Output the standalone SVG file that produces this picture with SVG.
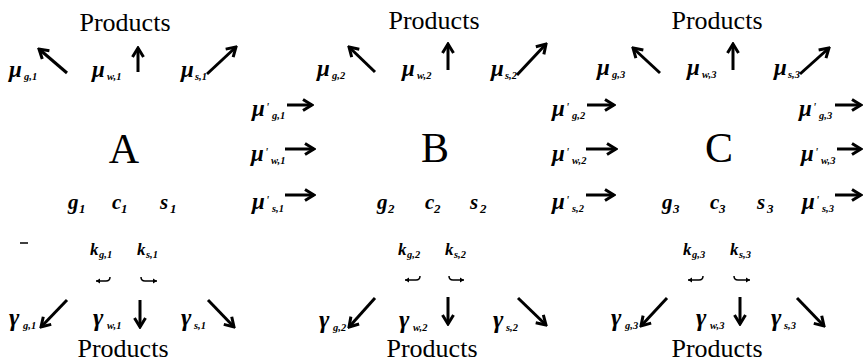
<svg xmlns="http://www.w3.org/2000/svg" width="863" height="364" viewBox="0 0 863 364">
<style>
.prod{font-family:"Liberation Serif","Times New Roman",serif;font-size:26px;fill:#000}
.big{font-family:"Liberation Serif","Times New Roman",serif;font-size:42px;fill:#000;text-anchor:middle}
.m{font-family:"Liberation Serif","Times New Roman",serif;font-weight:bold;font-style:italic;font-size:23px;fill:#000}
.gm{font-family:"Liberation Serif","Times New Roman",serif;font-weight:bold;font-style:italic;font-size:25px;fill:#000}
.v{font-family:"Liberation Serif","Times New Roman",serif;font-weight:bold;font-style:italic;font-size:21px;fill:#000}
.k{font-family:"Liberation Serif","Times New Roman",serif;font-weight:bold;font-style:italic;font-size:17px;fill:#000}
.s{font-size:10.5px}
.d{font-size:13px}
.p{font-size:13px;font-weight:normal}
.ar{stroke:#000;stroke-width:3;fill:none;marker-end:url(#ah)}
.sm{stroke:#000;stroke-width:1.5;fill:none;marker-end:url(#sh)}
</style>
<defs>
<marker id="ah" viewBox="-12 -8 14 16" refX="0" refY="0" markerWidth="14" markerHeight="16" markerUnits="userSpaceOnUse" orient="auto">
<path d="M-9,-5.5 L0,0 L-9,5.5" fill="none" stroke="#000" stroke-width="3"/>
</marker>
<marker id="sh" viewBox="-6 -4 7 8" refX="0" refY="0" markerWidth="7" markerHeight="8" markerUnits="userSpaceOnUse" orient="auto">
<path d="M-4,-2.5 L0,0 L-4,2.5 Z" fill="#000"/>
</marker>
</defs>
<rect width="863" height="364" fill="#fff"/>

<g id="products-top">
<text class="prod" x="125" y="31" text-anchor="middle">Products</text>
<text class="prod" x="434" y="29" text-anchor="middle">Products</text>
<text class="prod" x="717" y="29" text-anchor="middle">Products</text>
</g>
<g id="products-bottom">
<text class="prod" x="123" y="357" text-anchor="middle">Products</text>
<text class="prod" x="432" y="357" text-anchor="middle">Products</text>
<text class="prod" x="717" y="357" text-anchor="middle">Products</text>
</g>

<g id="node-A">
<text class="big" x="124" y="163">A</text>
<text class="v" x="68" y="209">g<tspan class="d" x="79" y="213">1</tspan></text>
<text class="v" x="112" y="209">c<tspan class="d" x="121" y="213">1</tspan></text>
<text class="v" x="160" y="209">s<tspan class="d" x="170" y="213">1</tspan></text>
</g>
<g id="node-B">
<text class="big" x="435" y="162">B</text>
<text class="v" x="377" y="209">g<tspan class="d" x="388" y="213">2</tspan></text>
<text class="v" x="425" y="209">c<tspan class="d" x="434" y="213">2</tspan></text>
<text class="v" x="470" y="209">s<tspan class="d" x="480" y="213">2</tspan></text>
</g>
<g id="node-C">
<text class="big" x="719" y="162">C</text>
<text class="v" x="662" y="209">g<tspan class="d" x="673" y="213">3</tspan></text>
<text class="v" x="710" y="209">c<tspan class="d" x="719" y="213">3</tspan></text>
<text class="v" x="757" y="209">s<tspan class="d" x="767" y="213">3</tspan></text>
</g>

<g id="labels-mu">
<text class="m" x="9" y="77">μ<tspan class="s" x="24" y="80">g,1</tspan></text>
<text class="m" x="92" y="77">μ<tspan class="s" x="107" y="80">w,1</tspan></text>
<text class="m" x="181" y="77">μ<tspan class="s" x="195" y="80">s,1</tspan></text>
<text class="m" x="317" y="76">μ<tspan class="s" x="332" y="79">g,2</tspan></text>
<text class="m" x="402" y="76">μ<tspan class="s" x="417" y="79">w,2</tspan></text>
<text class="m" x="491" y="76">μ<tspan class="s" x="505" y="79">s,2</tspan></text>
<text class="m" x="597" y="75">μ<tspan class="s" x="612" y="78">g,3</tspan></text>
<text class="m" x="687" y="75">μ<tspan class="s" x="702" y="78">w,3</tspan></text>
<text class="m" x="774" y="75">μ<tspan class="s" x="788" y="78">s,3</tspan></text>
</g>

<g id="labels-mu-prime">
<text class="m" x="252" y="116">μ<tspan class="p" x="266" y="111">'</tspan><tspan class="s" x="272" y="119">g,1</tspan></text>
<text class="m" x="251" y="161">μ<tspan class="p" x="265" y="156">'</tspan><tspan class="s" x="271" y="164">w,1</tspan></text>
<text class="m" x="252" y="209">μ<tspan class="p" x="266" y="204">'</tspan><tspan class="s" x="272" y="212">s,1</tspan></text>
<text class="m" x="552" y="116">μ<tspan class="p" x="566" y="111">'</tspan><tspan class="s" x="572" y="119">g,2</tspan></text>
<text class="m" x="552" y="161">μ<tspan class="p" x="566" y="156">'</tspan><tspan class="s" x="572" y="164">w,2</tspan></text>
<text class="m" x="552" y="209">μ<tspan class="p" x="566" y="204">'</tspan><tspan class="s" x="572" y="212">s,2</tspan></text>
<text class="m" x="799" y="116">μ<tspan class="p" x="813" y="111">'</tspan><tspan class="s" x="819" y="119">g,3</tspan></text>
<text class="m" x="801" y="161">μ<tspan class="p" x="815" y="156">'</tspan><tspan class="s" x="821" y="164">w,3</tspan></text>
<text class="m" x="802" y="209">μ<tspan class="p" x="816" y="204">'</tspan><tspan class="s" x="822" y="212">s,3</tspan></text>
</g>

<g id="labels-k">
<text class="k" x="90" y="255">k<tspan class="s" x="99" y="258">g,1</tspan></text>
<text class="k" x="137" y="255">k<tspan class="s" x="146" y="258">s,1</tspan></text>
<text class="k" x="398" y="255">k<tspan class="s" x="407" y="258">g,2</tspan></text>
<text class="k" x="445" y="255">k<tspan class="s" x="454" y="258">s,2</tspan></text>
<text class="k" x="683" y="255">k<tspan class="s" x="692" y="258">g,3</tspan></text>
<text class="k" x="730" y="255">k<tspan class="s" x="739" y="258">s,3</tspan></text>
</g>

<g id="labels-gamma">
<text class="gm" x="9" y="326">γ<tspan class="s" x="23" y="329">g,1</tspan></text>
<text class="gm" x="93" y="326">γ<tspan class="s" x="107" y="329">w,1</tspan></text>
<text class="gm" x="181" y="326">γ<tspan class="s" x="194" y="329">s,1</tspan></text>
<text class="gm" x="319" y="328">γ<tspan class="s" x="333" y="331">g,2</tspan></text>
<text class="gm" x="399" y="328">γ<tspan class="s" x="413" y="331">w,2</tspan></text>
<text class="gm" x="493" y="328">γ<tspan class="s" x="506" y="331">s,2</tspan></text>
<text class="gm" x="611" y="326">γ<tspan class="s" x="625" y="329">g,3</tspan></text>
<text class="gm" x="696" y="326">γ<tspan class="s" x="710" y="329">w,3</tspan></text>
<text class="gm" x="771" y="326">γ<tspan class="s" x="784" y="329">s,3</tspan></text>
</g>

<g id="connectors">
<line class="ar" x1="67" y1="73" x2="39" y2="49"/>
<line class="ar" x1="138" y1="72" x2="138" y2="48"/>
<line class="ar" x1="207" y1="74" x2="236" y2="47"/>
<line class="ar" x1="375" y1="72" x2="349" y2="47"/>
<line class="ar" x1="448" y1="70" x2="448" y2="44"/>
<line class="ar" x1="517" y1="75" x2="546" y2="44"/>
<line class="ar" x1="660" y1="73" x2="633" y2="48"/>
<line class="ar" x1="733" y1="70" x2="733" y2="44"/>
<line class="ar" x1="800" y1="74" x2="829" y2="48"/>

<line class="ar" x1="287" y1="105" x2="312" y2="105"/>
<line class="ar" x1="285" y1="149" x2="314" y2="149"/>
<line class="ar" x1="285" y1="195" x2="314" y2="195"/>
<line class="ar" x1="587" y1="105" x2="614" y2="105"/>
<line class="ar" x1="586" y1="149" x2="616" y2="149"/>
<line class="ar" x1="586" y1="195" x2="614" y2="195"/>
<line class="ar" x1="835" y1="105" x2="861" y2="105"/>
<line class="ar" x1="837" y1="149" x2="861" y2="149"/>
<line class="ar" x1="835" y1="195" x2="861" y2="195"/>

<line class="ar" x1="67" y1="300" x2="41" y2="327"/>
<line class="ar" x1="140" y1="300" x2="140" y2="327"/>
<line class="ar" x1="208" y1="300" x2="234" y2="327"/>
<line class="ar" x1="375" y1="298" x2="349" y2="327"/>
<line class="ar" x1="448" y1="297" x2="448" y2="324"/>
<line class="ar" x1="518" y1="298" x2="546" y2="325"/>
<line class="ar" x1="667" y1="298" x2="641" y2="326"/>
<line class="ar" x1="740" y1="297" x2="740" y2="324"/>
<line class="ar" x1="797" y1="298" x2="824" y2="326"/>

<path class="sm" d="M110,277 Q110,281 106,281 L96,281"/>
<path class="sm" d="M141,277 Q141,281 145,281 L157,281"/>
<path class="sm" d="M420,276 Q420,280 416,280 L405,280"/>
<path class="sm" d="M449,276 Q449,280 453,280 L464,280"/>
<path class="sm" d="M703,276 Q703,280 699,280 L688,280"/>
<path class="sm" d="M734,276 Q734,280 738,280 L750,280"/>
</g>
<line x1="20" y1="243" x2="28" y2="243" stroke="#000" stroke-width="1.5"/>
</svg>
